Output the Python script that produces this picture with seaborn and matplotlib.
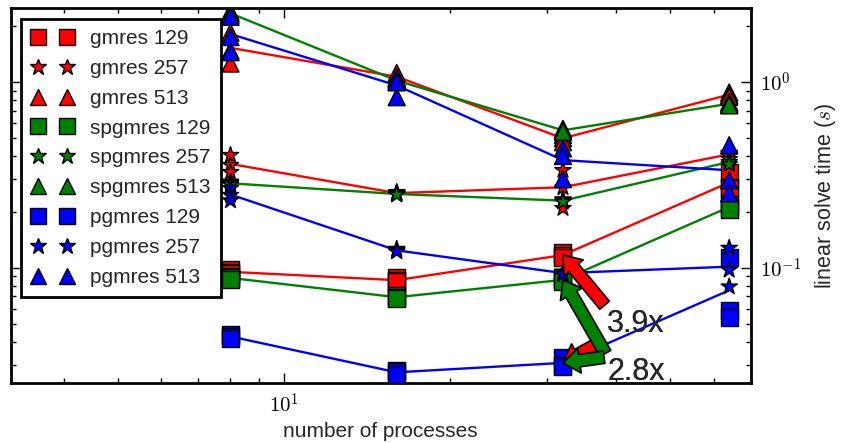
import numpy as np
import pandas as pd
import matplotlib
matplotlib.use('Agg')
import matplotlib.pyplot as plt
import seaborn as sns
from matplotlib.lines import Line2D
from matplotlib.ticker import FuncFormatter, NullFormatter

# number of processes on the x axis
procs = [8, 16, 32, 64]
solvers = ['gmres', 'spgmres', 'pgmres']
grids = [129, 257, 513]

# linear solve time (s), three runs for each process count
gmres_129 = [[0.098, 0.094, 0.093], [0.088, 0.085, 0.084], [0.121, 0.116, 0.114], [0.327, 0.270, 0.267]]
gmres_257 = [[0.404, 0.357, 0.327], [0.255, 0.252, 0.250], [0.335, 0.270, 0.209], [0.415, 0.410, 0.400]]
gmres_513 = [[1.85, 1.48, 1.26], [1.12, 1.06, 1.03], [0.520, 0.500, 0.475], [0.880, 0.855, 0.835]]
spgmres_129 = [[0.0897, 0.088, 0.0865], [0.071, 0.069, 0.068], [0.088, 0.086, 0.084], [0.220, 0.212, 0.205]]
spgmres_257 = [[0.290, 0.285, 0.280], [0.252, 0.250, 0.247], [0.233, 0.230, 0.226], [0.384, 0.370, 0.360]]
spgmres_513 = [[2.30, 2.40, 2.35], [1.04, 1.02, 1.00], [0.560, 0.550, 0.540], [0.780, 0.765, 0.750]]
pgmres_129 = [[0.0437, 0.0425, 0.0416], [0.0278, 0.0276, 0.0265], [0.0330, 0.0296, 0.0295], [0.114, 0.059, 0.0536]]
pgmres_257 = [[0.268, 0.246, 0.230], [0.126, 0.124, 0.122], [0.095, 0.0935, 0.092], [0.1276, 0.0972, 0.079]]
pgmres_513 = [[2.25, 1.75, 1.45], [1.05, 1.00, 0.83], [0.440, 0.400, 0.300], [0.457, 0.296, 0.252]]

# speedup labels (gmres / pgmres and spgmres / pgmres at 32 processes, 129 grid)
speedup_labels = ['3.9x', '2.8x']

runs = {
    ('gmres', 129): gmres_129, ('gmres', 257): gmres_257, ('gmres', 513): gmres_513,
    ('spgmres', 129): spgmres_129, ('spgmres', 257): spgmres_257, ('spgmres', 513): spgmres_513,
    ('pgmres', 129): pgmres_129, ('pgmres', 257): pgmres_257, ('pgmres', 513): pgmres_513,
}

colors = {'gmres': '#ff0000', 'spgmres': '#008000', 'pgmres': '#0000ff'}
marks = {129: 's', 257: '*', 513: '^'}

rows = []
for solver in solvers:
    for n in grids:
        for p, samples in zip(procs, runs[(solver, n)]):
            for t in samples:
                rows.append({'label': f'{solver} {n}', 'solver': solver, 'n': n, 'procs': p, 'time': t})
df = pd.DataFrame(rows)
means = df.groupby(['label', 'procs'], sort=False)['time'].mean().reset_index()

labels = [f'{s} {n}' for s in solvers for n in grids]
pal = {f'{s} {n}': colors[s] for s in solvers for n in grids}
mk = {f'{s} {n}': marks[n] for s in solvers for n in grids}

sns.set_style('white')
plt.rcParams['font.family'] = ['Liberation Sans', 'DejaVu Sans']
plt.rcParams['mathtext.fontset'] = 'cm'
plt.rcParams['axes.linewidth'] = 2

fig = plt.figure(figsize=(8.41, 4.43), dpi=100)
ax = fig.add_axes([10.7 / 841, 60.3 / 443, 740 / 841, 374.4 / 443])

sns.lineplot(data=means, x='procs', y='time', hue='label', hue_order=labels, palette=pal,
             estimator=None, linewidth=1.7, legend=False, ax=ax, zorder=2)
sns.scatterplot(data=df, x='procs', y='time', hue='label', hue_order=labels, palette=pal,
                style='label', style_order=labels, markers=mk, s=150, edgecolor='black',
                linewidth=1, legend=False, ax=ax, zorder=3)

ax.set_xscale('log')
ax.set_yscale('log')
ax.set_xlim(3.2, 70)
ax.set_ylim(0.024, 2.5)

fmt = FuncFormatter(lambda v, p: rf'$10^{{{int(round(np.log10(v)))}}}$')
ax.xaxis.set_major_formatter(fmt)
ax.yaxis.set_major_formatter(fmt)
ax.xaxis.set_minor_formatter(NullFormatter())
ax.yaxis.set_minor_formatter(NullFormatter())
ax.tick_params(which='both', direction='in', top=True, bottom=True, left=True, right=True,
               labelleft=False, labelright=True, colors='black', labelsize=15)
ax.tick_params(which='major', length=7, width=1, pad=7)
ax.tick_params(which='minor', length=3.5, width=1)
for sp in ax.spines.values():
    sp.set_color('black')
    sp.set_linewidth(2)

ax.set_xlabel('number of processes', fontsize=15)
ax.set_ylabel('linear solve time ($s$)', fontsize=15.5, labelpad=8)
ax.yaxis.set_label_position('right')

# speedup arrows at 32 processes
m = means.set_index(['label', 'procs'])['time']
base = m[('pgmres 129', 32)]
for text, src, ytext in [(speedup_labels[0], 'gmres 129', 0.0453), (speedup_labels[1], 'spgmres 129', 0.0249)]:
    c = pal[src]
    for target in [m[(src, 32)], base]:
        ax.annotate(text, xy=(32, target), xytext=(38.5, ytext), fontsize=22, zorder=5,
                    arrowprops=dict(facecolor=c, edgecolor='black', width=9, headwidth=18,
                                    headlength=12, shrink=0, linewidth=1.2))

handles = [Line2D([], [], ls='none', marker=mk[l], ms=12, mfc=pal[l], mec='black', mew=1) for l in labels]
leg = ax.legend(handles, labels, loc='upper left', numpoints=2, fontsize=15, fancybox=False,
                framealpha=1, borderaxespad=0.5, handlelength=2, handletextpad=0.8,
                labelspacing=0.52, borderpad=0.5)
leg.get_frame().set_edgecolor('black')
leg.get_frame().set_linewidth(2)
leg.set_zorder(6)

fig.savefig('out.png', dpi=100)
